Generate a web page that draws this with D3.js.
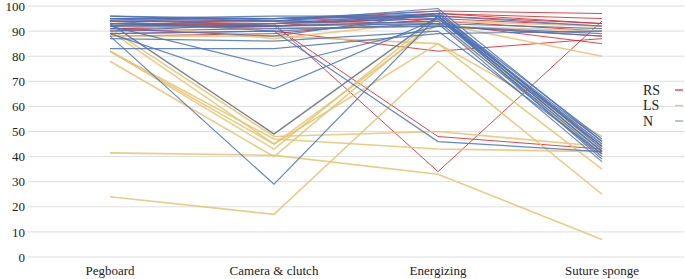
<!DOCTYPE html>
<html>
<head>
<meta charset="utf-8">
<script src="https://cdn.jsdelivr.net/npm/d3@7"></script>
<style>
  body { margin: 0; background: #fff; }
  svg text { font-family: 'Liberation Serif', 'DejaVu Serif', 'Times New Roman', Times, serif; }
</style>
</head>
<body>
<div id="chart"></div>
<script>
// Task categories on the x axis
const categories = ['Pegboard', 'Camera & clutch', 'Energizing', 'Suture sponge'];
const yTicks = [0, 10, 20, 30, 40, 50, 60, 70, 80, 90, 100];

// One row per participant: [Pegboard, Camera & clutch, Energizing, Suture sponge]
const rsSeries = [
    [94, 93, 97, 95],
    [95, 94, 98, 97],
    [93, 92, 96, 93],
    [92, 93, 95, 92],
    [91, 92, 94, 90],
    [90, 91, 92, 88],
    [93, 92, 48, 43],
    [92, 93, 34, 94],
    [89, 90, 82, 87],
    [94, 94, 93, 85],
    [88, 89, 95, 44],
    [95, 95, 96, 45],
    [91, 92, 97, 93]
];

const lsSeries = [
    [24, 17, 78, 25],
    [82, 45, 85, 35],
    [41.5, 40.5, 33, 7],
    [82, 47, 43, 42],
    [78, 40, 95, 45],
    [82, 43, 96, 40],
    [93, 93, 93, 80],
    [92, 91, 92, 90],
    [93, 87, 94, 92],
    [88, 88, 85, 48],
    [90, 45, 93, 42],
    [93, 49, 96, 43],
    [91, 48, 50, 44]
];

const nSeries = [
    [88, 29, 96, 46],
    [89, 67, 95, 44],
    [92, 76, 92, 88],
    [83, 83, 89, 90],
    [93, 49, 96, 42],
    [95, 95, 97, 47],
    [94, 94, 96, 45],
    [96, 95, 98, 43],
    [93, 93, 95, 41],
    [92, 92, 94, 40],
    [95, 96, 96, 39],
    [94, 90, 93, 38],
    [91, 88, 97, 44],
    [90, 93, 96, 42],
    [96, 94, 99, 46],
    [95, 92, 93, 91],
    [93, 91, 92, 89],
    [92, 95, 96, 92],
    [87, 86, 90, 41],
    [89, 90, 46, 42]
];

const groups = [
    {name: 'RS', color: '#d7262b', width: 1, rows: rsSeries},
    {name: 'LS', color: '#e6c36f', width: 1.6, rows: lsSeries},
    {name: 'N', color: '#4a72b8', width: 1.2, rows: nSeries}
];

const width = 685;
const height = 279;

const svg = d3.select('#chart')
    .append('svg')
    .attr('width', width)
    .attr('height', height);

const x = d3.scalePoint()
    .domain(categories)
    .range([28, 684])
    .padding(0.5);

const y = d3.scaleLinear()
    .domain([0, 100])
    .range([257, 6]);

// Gridlines
svg.append('g')
    .selectAll('line')
    .data(yTicks)
    .enter()
    .append('line')
    .attr('x1', 28)
    .attr('x2', 684)
    .attr('y1', d => y(d))
    .attr('y2', d => y(d))
    .attr('stroke', '#dedede')
    .attr('stroke-width', 1);

// Y axis labels
svg.append('g')
    .selectAll('text')
    .data(yTicks)
    .enter()
    .append('text')
    .attr('x', 25)
    .attr('y', d => y(d))
    .attr('dy', '0.36em')
    .attr('text-anchor', 'end')
    .style('font-size', '13px')
    .attr('fill', '#222')
    .text(d => d);

// X axis labels
svg.append('g')
    .selectAll('text')
    .data(categories)
    .enter()
    .append('text')
    .attr('x', d => x(d))
    .attr('y', 275)
    .attr('text-anchor', 'middle')
    .style('font-size', '13px')
    .attr('fill', '#222')
    .text(d => d);

const line = d3.line()
    .x((d, i) => x(categories[i]))
    .y(d => y(d));

// Lines, one group after another
groups.forEach(g => {
    svg.append('g')
        .selectAll('path')
        .data(g.rows)
        .enter()
        .append('path')
        .attr('d', line)
        .attr('fill', 'none')
        .attr('stroke', g.color)
        .attr('stroke-width', g.width)
        .attr('opacity', 0.85);
});

// Legend
const legend = svg.append('g')
    .attr('transform', 'translate(643, 90)');

const legendItems = legend.selectAll('g')
    .data(groups)
    .enter()
    .append('g')
    .attr('transform', (d, i) => `translate(0, ${i * 15.5})`);

legendItems.append('text')
    .attr('x', 0)
    .attr('y', 0)
    .attr('dy', '0.35em')
    .style('font-size', '14px')
    .attr('fill', '#222')
    .text(d => d.name);

legendItems.append('line')
    .attr('x1', 32)
    .attr('x2', 40)
    .attr('y1', 0)
    .attr('y2', 0)
    .attr('stroke', d => d.name === 'N' ? '#8a99c6' : d.color)
    .attr('stroke-width', 1.2);
</script>
</body>
</html>
